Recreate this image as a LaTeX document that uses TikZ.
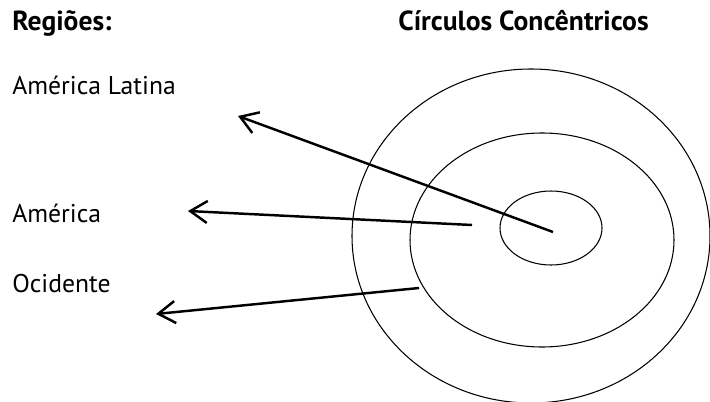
\documentclass[tikz,border=0pt]{standalone}
\usepackage{fontspec}
\setmainfont{PT Sans}
\usetikzlibrary{arrows.meta}

\begin{document}
\begin{tikzpicture}[x=0.02cm,y=-0.02cm]
\tikzset{
  heading/.style={anchor=base west,inner sep=0pt,font=\fontsize{15.7}{18}\selectfont\bfseries},
  region/.style={anchor=base west,inner sep=0pt,font=\fontsize{14.6}{17}\selectfont},
  ring/.style={draw,line width=0.6pt},
  pointer/.style={{Straight Barb[length=3.4mm,width=4.4mm,line width=1.4pt]}-,line width=1.4pt}
}
\useasboundingbox (0,0) rectangle (710,402);
\begin{scope}
\clip (0,0) rectangle (710,402);
\draw[ring] (531,236) ellipse [x radius=179,y radius=167];
\draw[ring] (542,240) ellipse [x radius=132,y radius=107];
\draw[ring] (551,228) ellipse [x radius=51,y radius=37];
\end{scope}
\node[heading] (h_reg) at (12,31) {Regiões:};
\node[heading] (h_circ) at (398,31) {Círculos Concêntricos};
\node[region] (r_latina) at (12,94) {América Latina};
\node[region] (r_america) at (12,222) {América};
\node[region] (r_ocidente) at (12,292) {Ocidente};
\coordinate (c_latina) at (553,232);
\coordinate (c_america) at (472,225);
\coordinate (c_ocidente) at (419,288);
\coordinate (t_latina) at (238,116);
\coordinate (t_america) at (188,211);
\coordinate (t_ocidente) at (156,314);
\draw[pointer] (t_latina) -- (c_latina);
\draw[pointer] (t_america) -- (c_america);
\draw[pointer] (t_ocidente) -- (c_ocidente);
\end{tikzpicture}
\end{document}
